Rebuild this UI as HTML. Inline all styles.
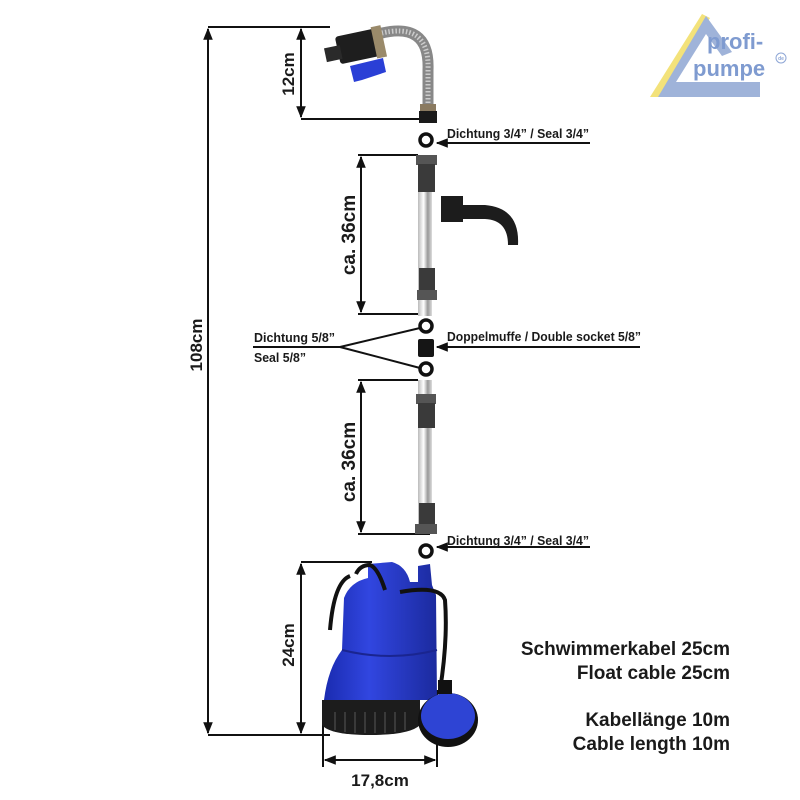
<!DOCTYPE html>
<html><head><meta charset="utf-8"><style>
html,body{margin:0;padding:0;background:#fff}
svg{display:block}
text{font-family:"Liberation Sans",sans-serif;font-weight:bold;fill:#1a1a1a}
</style></head><body>
<svg width="800" height="800" viewBox="0 0 800 800" xmlns="http://www.w3.org/2000/svg">
<defs>
<marker id="ar" viewBox="0 0 10 10" refX="9" refY="5" markerWidth="6" markerHeight="6" orient="auto-start-reverse"><path d="M0,1 L10,5 L0,9 z" fill="#111"/></marker>
<linearGradient id="pipe" x1="0" x2="1"><stop offset="0" stop-color="#bbb"/><stop offset=".4" stop-color="#fff"/><stop offset=".7" stop-color="#999"/><stop offset="1" stop-color="#ddd"/></linearGradient>
<linearGradient id="blue" x1="0" x2="1"><stop offset="0" stop-color="#1a2bb0"/><stop offset=".4" stop-color="#3146e0"/><stop offset="1" stop-color="#1b2a9e"/></linearGradient>
</defs>
<g stroke="#111" stroke-width="2" fill="none">
<line x1="208" y1="27" x2="330" y2="27"/>
<line x1="208" y1="735" x2="330" y2="735"/>
<line x1="208" y1="29" x2="208" y2="733" marker-start="url(#ar)" marker-end="url(#ar)"/>
<line x1="301" y1="119" x2="420" y2="119"/>
<line x1="301" y1="29" x2="301" y2="117" marker-start="url(#ar)" marker-end="url(#ar)"/>
<line x1="358" y1="155" x2="418" y2="155"/>
<line x1="358" y1="314" x2="430" y2="314"/>
<line x1="361" y1="157" x2="361" y2="312" marker-start="url(#ar)" marker-end="url(#ar)"/>
<line x1="358" y1="380" x2="418" y2="380"/>
<line x1="358" y1="534" x2="430" y2="534"/>
<line x1="361" y1="382" x2="361" y2="532" marker-start="url(#ar)" marker-end="url(#ar)"/>
<line x1="301" y1="562" x2="372" y2="562"/>
<line x1="301" y1="564" x2="301" y2="733" marker-start="url(#ar)" marker-end="url(#ar)"/>
<line x1="323" y1="700" x2="323" y2="767"/>
<line x1="437" y1="690" x2="437" y2="767"/>
<line x1="325" y1="760" x2="435" y2="760" marker-start="url(#ar)" marker-end="url(#ar)"/>
<line x1="590" y1="143" x2="437" y2="143" marker-end="url(#ar)"/>
<line x1="640" y1="347" x2="437" y2="347" marker-end="url(#ar)"/>
<line x1="590" y1="547" x2="437" y2="547" marker-end="url(#ar)"/>
<polyline points="420,328 340,347 420,368"/>
<line x1="253" y1="347" x2="340" y2="347"/>
</g>
<g stroke="#111" stroke-width="3.5" fill="none">
<circle cx="426" cy="140" r="6"/>
<circle cx="426" cy="326" r="6"/>
<circle cx="426" cy="369" r="6"/>
<circle cx="426" cy="551" r="6"/>
</g>
<path d="M378,34 Q430,20 428,70 L428,105" stroke="#888" stroke-width="11" fill="none"/>
<path d="M378,34 Q430,20 428,70 L428,105" stroke="#ccc" stroke-width="5" stroke-dasharray="1.5 2" fill="none"/>
<rect x="420" y="104" width="16" height="8" fill="#8a7a60"/>
<rect x="419" y="111" width="18" height="12" fill="#1a1a1a"/>
<g transform="rotate(-12 355 50)">
<rect x="338" y="33" width="44" height="28" rx="3" fill="#1e1e1e"/>
<rect x="325" y="42" width="16" height="14" fill="#2a2a2a"/>
<rect x="375" y="31" width="10" height="32" fill="#9a8a6a"/>
</g>
<path d="M350,66 L383,58 L386,72 L362,80 L354,82 Z" fill="#2a3fd6"/>
<rect x="418" y="190" width="14" height="126" fill="url(#pipe)"/>
<rect x="416" y="155" width="21" height="10" fill="#555"/>
<rect x="418" y="164" width="17" height="28" fill="#3a3a3a"/>
<rect x="419" y="268" width="16" height="24" fill="#3a3a3a"/>
<rect x="417" y="290" width="20" height="10" fill="#555"/>
<rect x="441" y="196" width="22" height="26" fill="#1c1c1c"/>
<path d="M460,205 L485,205 Q520,208 518,245 L508,245 Q508,220 485,219 L460,219 Z" fill="#1c1c1c"/>
<rect x="418" y="339" width="16" height="18" rx="2" fill="#151515"/>
<rect x="418" y="380" width="14" height="150" fill="url(#pipe)"/>
<rect x="416" y="394" width="20" height="10" fill="#555"/>
<rect x="418" y="403" width="17" height="25" fill="#3a3a3a"/>
<rect x="419" y="503" width="16" height="22" fill="#3a3a3a"/>
<rect x="415" y="524" width="22" height="10" fill="#555"/>
<!-- pump -->
<path d="M368,564 L392,562 Q406,566 410,582 L418,582 L418,566 L430,564 L432,585 L436,595 L437,700 L324,700 Q328,668 342,650 L344,598 Q350,582 368,578 Z" fill="url(#blue)"/>
<path d="M342,650 Q390,662 437,650" stroke="#1a2590" stroke-width="2" fill="none"/>
<path d="M322,700 L420,700 L420,725 Q410,735 370,735 Q330,735 322,725 Z" fill="#1c1c1c"/>
<g stroke="#444" stroke-width="1.5"><line x1="335" y1="712" x2="335" y2="730"/><line x1="345" y1="712" x2="345" y2="732"/><line x1="355" y1="712" x2="355" y2="733"/><line x1="365" y1="712" x2="365" y2="733"/><line x1="375" y1="712" x2="375" y2="733"/><line x1="385" y1="712" x2="385" y2="733"/><line x1="395" y1="712" x2="395" y2="732"/><line x1="405" y1="712" x2="405" y2="730"/></g>
<path d="M350,576 Q334,582 330,630" stroke="#111" stroke-width="4" fill="none"/>
<path d="M356,574 Q360,565 370,565 Q378,568 385,590" stroke="#111" stroke-width="4" fill="none"/>
<path d="M400,592 Q440,585 445,600 Q448,640 440,690" stroke="#111" stroke-width="4" fill="none"/>
<ellipse cx="448" cy="720" rx="30" ry="27" fill="#111"/>
<ellipse cx="448" cy="716" rx="27" ry="23" fill="#2e44d4"/>
<rect x="438" y="680" width="14" height="14" fill="#111"/>
<g font-size="13">
<text x="447" y="138" textLength="142" lengthAdjust="spacingAndGlyphs">Dichtung 3/4” / Seal 3/4”</text>
<text x="447" y="341" textLength="194" lengthAdjust="spacingAndGlyphs">Doppelmuffe / Double socket 5/8”</text>
<text x="447" y="545" textLength="142" lengthAdjust="spacingAndGlyphs">Dichtung 3/4” / Seal 3/4”</text>
<text x="254" y="342" textLength="81" lengthAdjust="spacingAndGlyphs">Dichtung 5/8”</text>
<text x="254" y="362" textLength="52" lengthAdjust="spacingAndGlyphs">Seal 5/8”</text>
</g>
<g font-size="17">
<text transform="translate(294,74) rotate(-90)" text-anchor="middle">12cm</text>
<text transform="translate(355,235) rotate(-90)" text-anchor="middle" font-size="19">ca. 36cm</text>
<text transform="translate(355,462) rotate(-90)" text-anchor="middle" font-size="19">ca. 36cm</text>
<text transform="translate(294,645) rotate(-90)" text-anchor="middle">24cm</text>
<text transform="translate(202,345) rotate(-90)" text-anchor="middle">108cm</text>
<text x="380" y="786" text-anchor="middle">17,8cm</text>
</g>
<g font-size="19" text-anchor="end">
<text x="730" y="655">Schwimmerkabel 25cm</text>
<text x="730" y="679">Float cable 25cm</text>
<text x="730" y="726">Kabellänge 10m</text>
<text x="730" y="750">Cable length 10m</text>
</g>
<!-- logo -->
<path d="M650,97 L702,14 L710,18 L660,97 Z" fill="#f3e27a"/>
<path d="M658,97 L706,16 L732,52 L722,56 L706,34 L676,82 L760,82 L760,97 Z" fill="#9fb3d9"/>
<text x="707" y="49" font-size="22" style="fill:#7f9bd0">profi-</text>
<text x="693" y="76" font-size="22" style="fill:#7f9bd0">pumpe</text>
<circle cx="781" cy="58" r="5" fill="none" stroke="#8ea6d6"/>
<text x="781" y="60" font-size="5" text-anchor="middle" style="fill:#8ea6d6">de</text>
</svg>
</body></html>
